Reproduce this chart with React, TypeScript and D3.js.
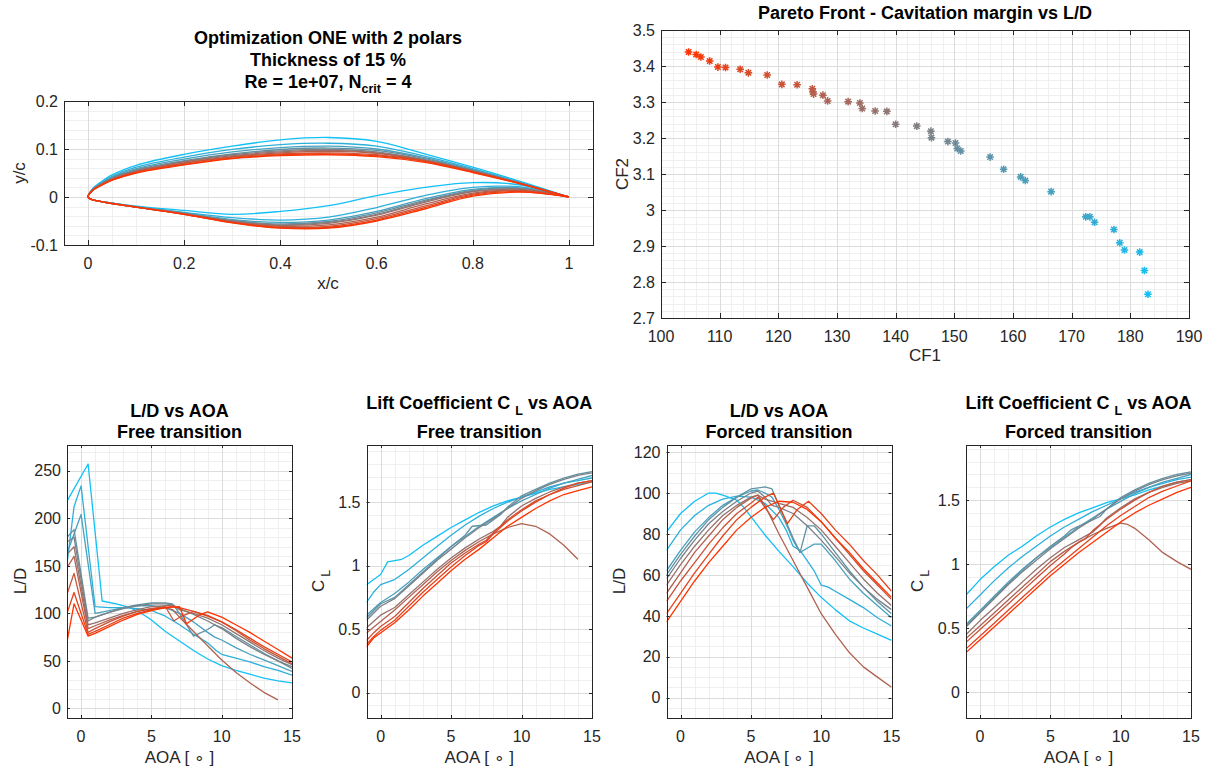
import React from "react";
import * as d3 from "d3";

const FONT = "'Liberation Sans', Arial, Helvetica, sans-serif";
const AXIS_COLOR = "#262626";
const MAJOR_GRID = "#dcdcdc";
const MINOR_GRID = "#efefef";
const RED = "#ff3300";
const CYAN = "#12c0f5";
const N_DESIGNS = 10;
const designColor = (i: number) => d3.interpolateRgb(RED, CYAN)(i / (N_DESIGNS - 1));

// ---------------- Airfoil geometry (design 0 = red ... design 9 = cyan) ----------------
const foilX = [0, 0.01, 0.025, 0.05, 0.1, 0.2, 0.3, 0.4, 0.5, 0.6, 0.7, 0.8, 0.9, 1];
const foilUpper = [
  [0, 0.014, 0.023, 0.035, 0.05, 0.067, 0.08, 0.086, 0.088, 0.084, 0.072, 0.051, 0.027, 0],
  [0, 0.014, 0.023, 0.035, 0.051, 0.068, 0.081, 0.088, 0.09, 0.086, 0.074, 0.052, 0.028, 0],
  [0, 0.014, 0.024, 0.036, 0.052, 0.07, 0.083, 0.09, 0.092, 0.088, 0.075, 0.053, 0.028, 0],
  [0, 0.015, 0.024, 0.037, 0.053, 0.071, 0.084, 0.092, 0.095, 0.091, 0.076, 0.054, 0.028, 0],
  [0, 0.015, 0.025, 0.038, 0.054, 0.073, 0.086, 0.094, 0.097, 0.092, 0.077, 0.054, 0.028, 0],
  [0, 0.015, 0.025, 0.039, 0.055, 0.074, 0.088, 0.096, 0.099, 0.094, 0.078, 0.055, 0.028, 0],
  [0, 0.016, 0.026, 0.04, 0.057, 0.076, 0.09, 0.099, 0.102, 0.097, 0.08, 0.056, 0.029, 0],
  [0, 0.016, 0.027, 0.041, 0.059, 0.079, 0.094, 0.103, 0.106, 0.1, 0.082, 0.057, 0.029, 0],
  [0, 0.017, 0.028, 0.043, 0.062, 0.083, 0.099, 0.109, 0.112, 0.106, 0.085, 0.059, 0.03, 0],
  [0, 0.018, 0.03, 0.046, 0.066, 0.089, 0.106, 0.119, 0.124, 0.116, 0.09, 0.062, 0.032, 0],
];
const foilLower = [
  [0, -0.006, -0.009, -0.014, -0.021, -0.036, -0.054, -0.065, -0.065, -0.05, -0.025, 0.002, 0.01, 0],
  [0, -0.006, -0.009, -0.014, -0.021, -0.036, -0.053, -0.064, -0.063, -0.048, -0.022, 0.004, 0.011, 0],
  [0, -0.006, -0.009, -0.014, -0.021, -0.036, -0.053, -0.063, -0.061, -0.045, -0.019, 0.006, 0.013, 0],
  [0, -0.006, -0.009, -0.014, -0.021, -0.035, -0.052, -0.061, -0.058, -0.042, -0.015, 0.008, 0.014, 0],
  [0, -0.006, -0.009, -0.013, -0.021, -0.035, -0.051, -0.059, -0.055, -0.038, -0.011, 0.011, 0.016, 0],
  [0, -0.006, -0.009, -0.013, -0.021, -0.034, -0.05, -0.058, -0.053, -0.036, -0.009, 0.012, 0.017, 0],
  [0, -0.006, -0.009, -0.013, -0.021, -0.034, -0.049, -0.056, -0.051, -0.033, -0.007, 0.014, 0.018, 0],
  [0, -0.006, -0.009, -0.013, -0.02, -0.033, -0.047, -0.053, -0.048, -0.03, -0.004, 0.016, 0.019, 0],
  [0, -0.006, -0.009, -0.013, -0.02, -0.032, -0.043, -0.048, -0.042, -0.022, 0.003, 0.02, 0.021, 0],
  [0, -0.006, -0.009, -0.013, -0.019, -0.028, -0.036, -0.03, -0.018, 0.003, 0.02, 0.03, 0.025, 0],
];

// ---------------- Pareto front ----------------
const paretoCF1 = [104.7, 106.0, 106.8, 108.3, 109.7, 111.0, 113.5, 114.9, 118.1, 120.6, 123.2, 125.8, 125.9, 126.0, 127.6, 128.4, 131.9, 133.9, 134.3, 136.5, 138.5, 140.0, 143.6, 146.0, 146.1, 148.9, 150.2, 150.5, 151.1, 156.1, 158.4, 161.3, 162.1, 166.5, 172.4, 173.1, 173.9, 177.2, 178.2, 179.0, 181.6, 182.4, 183.0];
const paretoCF2 = [3.439, 3.432, 3.425, 3.414, 3.397, 3.396, 3.391, 3.381, 3.375, 3.349, 3.348, 3.337, 3.328, 3.322, 3.319, 3.303, 3.301, 3.297, 3.282, 3.275, 3.274, 3.238, 3.233, 3.219, 3.201, 3.19, 3.186, 3.171, 3.164, 3.147, 3.113, 3.092, 3.082, 3.051, 2.981, 2.981, 2.966, 2.946, 2.909, 2.889, 2.883, 2.832, 2.766];

// ---------------- Polars: [AOA, value] per design ----------------
type Pt = [number, number];
const ldFree: Pt[][] = [
  [[-1, 70], [-0.5, 110], [0.5, 76], [1, 79], [2, 86], [3, 93], [4, 99], [5, 103], [6, 106], [7, 107], [7.5, 89], [8.5, 99], [9, 101.5], [10, 96], [11, 88], [12, 80], [13, 71], [14, 62], [15, 53]],
  [[-1, 100], [-0.5, 122], [0.5, 78], [1, 81], [2, 88], [3, 95], [4, 100], [5, 104], [6, 106], [6.5, 107], [7, 106], [8, 102], [9, 97], [10, 91], [11, 83], [12, 74], [13, 65], [14, 57], [15, 49]],
  [[-1, 120], [-0.5, 142], [0.5, 80], [1, 84], [2, 91], [3, 97], [4, 102], [5, 105], [6, 107], [6.6, 92], [7, 96], [8, 102], [9, 98], [10, 91], [11, 82], [12, 72], [13, 63], [14, 55], [15, 47]],
  [[-1, 148], [-0.5, 160], [0.5, 84], [1, 87], [2, 93], [3, 98], [4, 102], [5, 105], [6, 106], [6.5, 104], [7, 96], [8, 81], [9, 66], [10, 51], [11, 38], [12, 27], [13, 17], [14, 9]],
  [[-1, 162], [-0.5, 170], [0.5, 88], [1, 90], [2, 95], [3, 100], [4, 104], [5, 107], [6, 108], [6.5, 108], [7, 104], [8, 100], [9, 95], [10, 88], [11, 79], [12, 70], [13, 61], [14, 53], [15, 46]],
  [[-1, 175], [-0.5, 180], [0.5, 92], [1, 96], [2, 101], [3, 105], [4, 108], [5, 110], [6, 110], [6.5, 109], [7, 105], [8, 99], [9, 92], [10, 84], [11, 74], [12, 65], [13, 57], [14, 50], [15, 44]],
  [[-1, 180], [-0.5, 188], [0.5, 95], [1, 96], [2, 101], [3, 106], [4, 109], [5, 111], [6, 111], [6.5, 110], [7, 100], [8, 76], [9, 83], [9.5, 88], [10, 85], [11, 76], [12, 67], [13, 58], [14, 50], [15, 42]],
  [[-1, 163], [0, 204], [1, 100], [2, 103], [3, 106], [4, 108], [5, 108], [6, 106], [7, 100], [8, 91], [9, 80], [9.5, 75], [10, 72], [11, 64], [12, 57], [13, 51], [14, 45], [15, 39]],
  [[-1, 152], [-0.5, 212], [0, 234], [1, 107], [2, 106], [3, 106], [4, 105], [5, 103], [6, 97], [7, 88], [8, 78], [9, 69], [9.6, 61], [10, 57], [11, 53], [12, 49], [13, 44], [14, 40], [15, 35]],
  [[-1, 218], [0.5, 257], [1.5, 113], [2.5, 110], [3.5, 106], [4.5, 98], [5, 93], [6, 81], [7, 71], [8, 61], [9, 52], [10, 45], [11, 40], [12, 36], [13, 32], [14, 29], [15, 27]],
];
const clFree: Pt[][] = [
  [[-1, 0.36], [-0.5, 0.43], [0, 0.47], [0.5, 0.51], [1, 0.55], [2, 0.65], [3, 0.76], [4, 0.86], [5, 0.96], [6, 1.05], [7, 1.13], [8, 1.22], [9, 1.31], [10, 1.38], [11, 1.45], [12, 1.51], [13, 1.56], [14, 1.59], [15, 1.62]],
  [[-1, 0.38], [-0.5, 0.44], [0, 0.49], [0.5, 0.53], [1, 0.57], [2, 0.68], [3, 0.79], [4, 0.89], [5, 0.99], [6, 1.08], [7, 1.16], [7.5, 1.19], [8, 1.25], [9, 1.35], [10, 1.43], [11, 1.5], [12, 1.56], [13, 1.61], [14, 1.65], [15, 1.67]],
  [[-1, 0.41], [-0.5, 0.47], [0, 0.52], [0.5, 0.56], [1, 0.6], [2, 0.71], [3, 0.82], [4, 0.92], [5, 1.02], [6, 1.1], [7, 1.17], [7.5, 1.2], [8, 1.26], [9, 1.36], [10, 1.44], [11, 1.51], [12, 1.56], [13, 1.6], [14, 1.63], [15, 1.66]],
  [[-1, 0.47], [0, 0.56], [1, 0.65], [2, 0.75], [3, 0.85], [4, 0.95], [5, 1.04], [6, 1.12], [7, 1.19], [8, 1.25], [9, 1.3], [10, 1.33], [11, 1.31], [12, 1.25], [13, 1.16], [14, 1.05]],
  [[-1, 0.51], [0, 0.61], [1, 0.67], [2, 0.77], [3, 0.87], [4, 0.97], [5, 1.06], [6, 1.14], [7, 1.21], [8, 1.27], [8.5, 1.31], [9, 1.38], [10, 1.47], [11, 1.53], [12, 1.58], [13, 1.62], [14, 1.65], [15, 1.67]],
  [[-1, 0.57], [0, 0.68], [1, 0.74], [2, 0.84], [3, 0.94], [4, 1.04], [5, 1.13], [6, 1.22], [7, 1.3], [8, 1.37], [9, 1.45], [10, 1.53], [11, 1.59], [12, 1.64], [13, 1.68], [14, 1.71], [15, 1.73]],
  [[-1, 0.59], [0, 0.7], [1, 0.75], [2, 0.85], [3, 0.95], [4, 1.05], [5, 1.15], [6, 1.24], [6.5, 1.31], [7.5, 1.32], [8.5, 1.4], [9, 1.46], [10, 1.55], [11, 1.6], [12, 1.65], [13, 1.69], [14, 1.72], [15, 1.74]],
  [[-1, 0.61], [0, 0.71], [1, 0.78], [2, 0.87], [3, 0.97], [4, 1.06], [5, 1.15], [6, 1.23], [7, 1.31], [8, 1.38], [9, 1.45], [10, 1.51], [11, 1.56], [12, 1.61], [13, 1.65], [14, 1.68], [15, 1.71]],
  [[-1, 0.71], [-0.5, 0.79], [0, 0.85], [0.5, 0.87], [1, 0.89], [2, 0.97], [3, 1.06], [4, 1.15], [5, 1.24], [6, 1.32], [7, 1.39], [8, 1.45], [9, 1.5], [10, 1.54], [11, 1.58], [12, 1.62], [13, 1.65], [14, 1.67], [15, 1.69]],
  [[-1, 0.85], [0, 0.93], [0.5, 1.03], [1.5, 1.05], [2, 1.08], [3, 1.16], [4, 1.23], [5, 1.3], [6, 1.36], [7, 1.42], [8, 1.47], [9, 1.51], [10, 1.54], [11, 1.57], [12, 1.6], [13, 1.62], [14, 1.64], [15, 1.66]],
];
const ldForced: Pt[][] = [
  [[-1, 37], [0, 47], [1, 57], [2, 66], [3, 74], [4, 82], [5, 88], [6, 93], [7, 96], [8, 95.5], [9, 92], [10, 86], [11, 78], [12, 71], [13, 63], [14, 56], [15, 49]],
  [[-1, 41], [0, 51], [1, 61], [2, 70], [3, 79], [4, 87], [5, 93], [6, 98], [6.6, 100], [7.6, 85], [8.3, 92], [9.1, 96], [10, 90], [11, 82], [12, 75], [13, 67], [14, 60], [15, 52]],
  [[-1, 47], [0, 57], [1, 66], [2, 75], [3, 83], [4, 90], [5, 95], [5.5, 98], [6.6, 87], [7.3, 93], [8, 96.5], [9, 93], [10, 86], [11, 78], [12, 70], [13, 62], [14, 55], [15, 48]],
  [[-1, 51], [0, 61], [1, 71], [2, 79], [3, 87], [4, 93], [5, 97.5], [5.5, 99], [6, 94], [6.5, 87], [7, 80], [8, 67], [9, 54], [10, 41], [11, 31], [12, 22], [13, 15], [14, 10], [15, 5]],
  [[-1, 55], [0, 65], [1, 74], [2, 82], [3, 89], [4, 94], [5, 98], [5.5, 99], [6, 97], [7, 95], [8, 93], [9, 88], [10, 82], [11, 74], [12, 66], [13, 58], [14, 51], [15, 45]],
  [[-1, 58], [0, 68], [1, 77], [2, 85], [3, 91], [4, 96], [5, 100], [5.5, 101], [6, 98], [6.5, 94], [7, 93], [8, 90], [9, 84], [10, 77], [11, 69], [12, 61], [13, 54], [14, 48], [15, 43]],
  [[-1, 60], [0, 70], [1, 79], [2, 87], [3, 93], [4, 98], [5, 102], [6, 103], [6.5, 102], [7, 94], [7.5, 86], [8, 78], [8.5, 71], [9, 84], [9.5, 84], [10, 80], [11, 71], [12, 62], [13, 54], [14, 47], [15, 41]],
  [[-1, 62], [0, 72], [1, 81], [2, 88], [3, 94], [4, 98], [5, 101], [5.5, 101.5], [6, 100], [6.5, 98], [7, 92], [7.5, 85], [8, 77], [8.5, 71], [9, 73], [9.5, 75], [10, 75], [11, 67], [12, 58], [13, 51], [14, 45], [15, 39]],
  [[-1, 72], [0, 82], [1, 89], [2, 94], [3, 97], [4, 98.5], [5, 98], [6, 95], [7, 88], [7.5, 82], [8, 74], [8.5, 72], [9, 67], [9.5, 62], [10, 55], [10.5, 54], [11, 52], [12, 48], [13, 44], [14, 39], [15, 35]],
  [[-1, 81], [0, 90], [1, 96], [2, 100], [2.5, 100], [3, 99], [4, 96.5], [4.5, 93], [5, 88.5], [6, 79.5], [7, 71.5], [8, 64], [9, 56], [10, 49], [11, 43], [12, 37.5], [13, 34], [14, 31], [15, 28]],
];
const clForced: Pt[][] = [
  [[-1, 0.31], [0, 0.41], [1, 0.51], [2, 0.61], [3, 0.71], [4, 0.81], [5, 0.91], [6, 1.0], [7, 1.09], [8, 1.17], [9, 1.25], [10, 1.33], [11, 1.4], [12, 1.46], [13, 1.51], [14, 1.56], [15, 1.6]],
  [[-1, 0.34], [0, 0.44], [1, 0.54], [2, 0.64], [3, 0.74], [4, 0.84], [5, 0.94], [6, 1.03], [7, 1.12], [8, 1.21], [9, 1.3], [10, 1.38], [11, 1.45], [12, 1.52], [13, 1.57], [14, 1.61], [15, 1.65]],
  [[-1, 0.39], [0, 0.49], [1, 0.59], [2, 0.69], [3, 0.79], [4, 0.89], [5, 0.99], [6, 1.08], [6.5, 1.13], [7, 1.17], [7.5, 1.2], [8, 1.26], [9, 1.35], [10, 1.43], [11, 1.5], [12, 1.56], [13, 1.61], [14, 1.64], [15, 1.66]],
  [[-1, 0.42], [0, 0.52], [1, 0.62], [2, 0.72], [3, 0.82], [4, 0.92], [5, 1.02], [6, 1.1], [7, 1.17], [8, 1.23], [9, 1.28], [10, 1.32], [10.5, 1.31], [11, 1.28], [12, 1.19], [13, 1.09], [14, 1.02], [15, 0.96]],
  [[-1, 0.45], [0, 0.56], [1, 0.66], [2, 0.76], [3, 0.86], [4, 0.96], [5, 1.05], [6, 1.13], [7, 1.19], [8, 1.25], [8.5, 1.3], [9, 1.36], [10, 1.44], [11, 1.51], [12, 1.56], [13, 1.6], [14, 1.63], [15, 1.65]],
  [[-1, 0.51], [0, 0.62], [1, 0.73], [2, 0.84], [3, 0.94], [4, 1.03], [5, 1.12], [6, 1.2], [7, 1.28], [8, 1.35], [9, 1.43], [10, 1.51], [11, 1.57], [12, 1.62], [13, 1.66], [14, 1.69], [15, 1.71]],
  [[-1, 0.52], [0, 0.63], [1, 0.74], [2, 0.85], [3, 0.95], [4, 1.05], [5, 1.14], [6, 1.22], [6.5, 1.27], [7.5, 1.32], [8.5, 1.37], [9, 1.43], [10, 1.52], [11, 1.58], [12, 1.63], [13, 1.67], [14, 1.7], [15, 1.72]],
  [[-1, 0.53], [0, 0.64], [1, 0.75], [2, 0.86], [3, 0.96], [4, 1.05], [5, 1.13], [6, 1.21], [7, 1.29], [8, 1.36], [9, 1.43], [10, 1.49], [11, 1.55], [12, 1.6], [13, 1.64], [14, 1.67], [15, 1.7]],
  [[-1, 0.65], [0, 0.76], [1, 0.87], [2, 0.97], [3, 1.06], [4, 1.14], [5, 1.22], [6, 1.29], [7, 1.35], [8, 1.41], [9, 1.46], [10, 1.51], [11, 1.56], [12, 1.6], [13, 1.63], [14, 1.66], [15, 1.68]],
  [[-1, 0.76], [0, 0.88], [1, 0.98], [2, 1.07], [3, 1.14], [4, 1.22], [5, 1.29], [6, 1.35], [7, 1.4], [8, 1.44], [9, 1.48], [10, 1.51], [11, 1.54], [12, 1.58], [13, 1.61], [14, 1.64], [15, 1.66]],
];

// ---------------- Ticks ----------------
const foilXTicks = [0, 0.2, 0.4, 0.6, 0.8, 1];
const foilYTicks = [-0.1, 0, 0.1, 0.2];
const paretoXTicks = [100, 110, 120, 130, 140, 150, 160, 170, 180, 190];
const paretoYTicks = [2.7, 2.8, 2.9, 3, 3.1, 3.2, 3.3, 3.4, 3.5];
const aoaTicks = [0, 5, 10, 15];
const ldFreeTicks = [0, 50, 100, 150, 200, 250];
const clTicks = [0, 0.5, 1, 1.5];
const ldForcedTicks = [0, 20, 40, 60, 80, 100, 120];

const TICK_FS = 16;
const LABEL_FS = 17;
const TITLE_FS = 18;
const SUB_FS = 12.5;

type Scale = d3.ScaleLinear<number, number>;
interface PanelProps {
  id: string;
  l: number; r: number; t: number; b: number;
  xDomain: [number, number]; yDomain: [number, number];
  xTicks: number[]; yTicks: number[];
  xMinor: number; yMinor: number;
  tickLen: number;
  render: (x: Scale, y: Scale) => React.ReactNode;
}

const fmt = (v: number) => `${+v.toFixed(4)}`;
const px = (v: number) => Math.round(v) + 0.5;

function Panel({ id, l, r, t, b, xDomain, yDomain, xTicks, yTicks, xMinor, yMinor, tickLen, render }: PanelProps) {
  const x = d3.scaleLinear().domain(xDomain).range([l, r]);
  const y = d3.scaleLinear().domain(yDomain).range([b, t]);
  const isMajor = (ticks: number[], v: number, step: number) => ticks.some((tk) => Math.abs(tk - v) < step * 1e-3);
  const minorX = d3.range(Math.ceil(xDomain[0] / xMinor), Math.floor(xDomain[1] / xMinor) + 1)
    .map((k) => k * xMinor).filter((v) => !isMajor(xTicks, v, xMinor));
  const minorY = d3.range(Math.ceil(yDomain[0] / yMinor), Math.floor(yDomain[1] / yMinor) + 1)
    .map((k) => k * yMinor).filter((v) => !isMajor(yTicks, v, yMinor));
  return (
    <g>
      <rect x={l} y={t} width={r - l} height={b - t} fill="#fff" />
      {minorX.map((v) => <line key={"mx" + v} x1={px(x(v))} x2={px(x(v))} y1={t} y2={b} stroke={MINOR_GRID} />)}
      {minorY.map((v) => <line key={"my" + v} y1={px(y(v))} y2={px(y(v))} x1={l} x2={r} stroke={MINOR_GRID} />)}
      {xTicks.map((v) => <line key={"gx" + v} x1={px(x(v))} x2={px(x(v))} y1={t} y2={b} stroke={MAJOR_GRID} />)}
      {yTicks.map((v) => <line key={"gy" + v} y1={px(y(v))} y2={px(y(v))} x1={l} x2={r} stroke={MAJOR_GRID} />)}
      <clipPath id={id}><rect x={l} y={t} width={r - l} height={b - t} /></clipPath>
      <g clipPath={`url(#${id})`}>{render(x, y)}</g>
      <rect x={px(l)} y={px(t)} width={Math.round(r) - Math.round(l)} height={Math.round(b) - Math.round(t)} fill="none" stroke={AXIS_COLOR} />
      {xTicks.map((v) => (
        <g key={"tx" + v}>
          <line x1={px(x(v))} x2={px(x(v))} y1={b} y2={b - tickLen} stroke={AXIS_COLOR} />
          <line x1={px(x(v))} x2={px(x(v))} y1={t} y2={t + tickLen} stroke={AXIS_COLOR} />
          <text x={x(v)} y={b + 23.5} textAnchor="middle" fontSize={TICK_FS} fill={AXIS_COLOR}>{fmt(v)}</text>
        </g>
      ))}
      {yTicks.map((v) => (
        <g key={"ty" + v}>
          <line y1={px(y(v))} y2={px(y(v))} x1={l} x2={l + tickLen} stroke={AXIS_COLOR} />
          <line y1={px(y(v))} y2={px(y(v))} x1={r} x2={r - tickLen} stroke={AXIS_COLOR} />
          <text x={l - 6} y={y(v) + 5.8} textAnchor="end" fontSize={TICK_FS} fill={AXIS_COLOR}>{fmt(v)}</text>
        </g>
      ))}
    </g>
  );
}

function polarLines(data: Pt[][]) {
  return (x: Scale, y: Scale) => {
    const line = d3.line<Pt>().x((d) => x(d[0])).y((d) => y(d[1]));
    const order = d3.range(N_DESIGNS).reverse();
    return order.map((i) => (
      <path key={i} d={line(data[i]) || ""} fill="none" stroke={designColor(i)} strokeWidth={1.3} strokeLinejoin="round" />
    ));
  };
}

function starPath(cx: number, cy: number, r: number) {
  const d = r * 0.72;
  return `M${cx - r},${cy}L${cx + r},${cy}M${cx},${cy - r}L${cx},${cy + r}M${cx - d},${cy - d}L${cx + d},${cy + d}M${cx - d},${cy + d}L${cx + d},${cy - d}`;
}

function YLabel({ x, y, children }: { x: number; y: number; children: React.ReactNode }) {
  return (
    <text transform={`translate(${x},${y}) rotate(-90)`} textAnchor="middle" fontSize={LABEL_FS} fill={AXIS_COLOR}>{children}</text>
  );
}

export default function App() {
  const bottomT = 445, bottomB = 718;
  const cols = [
    { l: 67, r: 292 },
    { l: 366.5, r: 592 },
    { l: 666.5, r: 891.5 },
    { l: 966, r: 1191 },
  ];
  const cx = cols.map((c) => (c.l + c.r) / 2);
  const pColor = (i: number) => d3.interpolateRgb(RED, CYAN)(i / (paretoCF1.length - 1));
  const foilLine = d3.line<[number, number]>().curve(d3.curveCatmullRom.alpha(0.5));

  return (
    <svg width={1212} height={771} style={{ position: "absolute", left: 0, top: 0, fontFamily: FONT, background: "#fff" }}>
      <rect width={1212} height={771} fill="#fff" />

      {/* ---------- Airfoils ---------- */}
      <text textAnchor="middle" fontWeight="bold" fontSize={TITLE_FS} fill="#000">
        <tspan x={328} y={43.5}>Optimization ONE with 2 polars</tspan>
        <tspan x={328} y={65.5}>Thickness of 15 %</tspan>
      </text>
      <text x={328} y={87.5} textAnchor="middle" fontWeight="bold" fontSize={TITLE_FS} fill="#000">
        Re = 1e+07, N<tspan dy={5} fontSize={SUB_FS}>crit</tspan><tspan dy={-5}> = 4</tspan>
      </text>
      <Panel id="c1" l={64} r={593} t={101} b={245} xDomain={[-0.05, 1.05]} yDomain={[-0.1, 0.2]}
        xTicks={foilXTicks} yTicks={foilYTicks} xMinor={0.05} yMinor={0.02} tickLen={5}
        render={(x, y) => d3.range(N_DESIGNS).reverse().map((i) => {
          const pts: [number, number][] = [];
          for (let k = foilX.length - 1; k >= 0; k--) pts.push([x(foilX[k]), y(foilUpper[i][k])]);
          for (let k = 1; k < foilX.length; k++) pts.push([x(foilX[k]), y(foilLower[i][k])]);
          return <path key={i} d={foilLine(pts) || ""} fill="none" stroke={designColor(i)} strokeWidth={1.3} />;
        })} />
      <text x={328} y={289} textAnchor="middle" fontSize={LABEL_FS} fill={AXIS_COLOR}>x/c</text>
      <YLabel x={25} y={173}>y/c</YLabel>

      {/* ---------- Pareto ---------- */}
      <text x={925} y={18.5} textAnchor="middle" fontWeight="bold" fontSize={TITLE_FS} fill="#000">Pareto Front - Cavitation margin vs L/D</text>
      <Panel id="c2" l={661} r={1189} t={30} b={318} xDomain={[100, 190]} yDomain={[2.7, 3.5]}
        xTicks={paretoXTicks} yTicks={paretoYTicks} xMinor={2} yMinor={0.02} tickLen={5}
        render={(x, y) => paretoCF1.map((v, i) => (
          <path key={i} d={starPath(x(v), y(paretoCF2[i]), 3.8)} stroke={pColor(i)} strokeWidth={1.5} fill="none" />
        ))} />
      <text x={925} y={361} textAnchor="middle" fontSize={LABEL_FS} fill={AXIS_COLOR}>CF1</text>
      <YLabel x={627.5} y={174}>CF2</YLabel>

      {/* ---------- Bottom row ---------- */}
      <text textAnchor="middle" fontWeight="bold" fontSize={TITLE_FS} fill="#000">
        <tspan x={cx[0]} y={416.5}>L/D vs AOA</tspan>
        <tspan x={cx[0]} y={438}>Free transition</tspan>
      </text>
      <text x={cx[1]} y={409} textAnchor="middle" fontWeight="bold" fontSize={TITLE_FS} fill="#000">
        Lift Coefficient C <tspan dy={6} fontSize={SUB_FS}>L</tspan><tspan dy={-6}> vs AOA</tspan>
      </text>
      <text x={cx[1]} y={438} textAnchor="middle" fontWeight="bold" fontSize={TITLE_FS} fill="#000">Free transition</text>
      <text textAnchor="middle" fontWeight="bold" fontSize={TITLE_FS} fill="#000">
        <tspan x={cx[2]} y={416.5}>L/D vs AOA</tspan>
        <tspan x={cx[2]} y={438}>Forced transition</tspan>
      </text>
      <text x={cx[3]} y={409} textAnchor="middle" fontWeight="bold" fontSize={TITLE_FS} fill="#000">
        Lift Coefficient C <tspan dy={6} fontSize={SUB_FS}>L</tspan><tspan dy={-6}> vs AOA</tspan>
      </text>
      <text x={cx[3]} y={438} textAnchor="middle" fontWeight="bold" fontSize={TITLE_FS} fill="#000">Forced transition</text>

      <Panel id="c3" l={cols[0].l} r={cols[0].r} t={bottomT} b={bottomB} xDomain={[-1, 15]} yDomain={[-10, 277]}
        xTicks={aoaTicks} yTicks={ldFreeTicks} xMinor={1} yMinor={10} tickLen={3} render={polarLines(ldFree)} />
      <Panel id="c4" l={cols[1].l} r={cols[1].r} t={bottomT} b={bottomB} xDomain={[-1, 15]} yDomain={[-0.2, 1.95]}
        xTicks={aoaTicks} yTicks={clTicks} xMinor={1} yMinor={0.1} tickLen={3} render={polarLines(clFree)} />
      <Panel id="c5" l={cols[2].l} r={cols[2].r} t={bottomT} b={bottomB} xDomain={[-1, 15]} yDomain={[-10, 123.5]}
        xTicks={aoaTicks} yTicks={ldForcedTicks} xMinor={1} yMinor={5} tickLen={3} render={polarLines(ldForced)} />
      <Panel id="c6" l={cols[3].l} r={cols[3].r} t={bottomT} b={bottomB} xDomain={[-1, 15]} yDomain={[-0.2, 1.93]}
        xTicks={aoaTicks} yTicks={clTicks} xMinor={1} yMinor={0.1} tickLen={3} render={polarLines(clForced)} />

      {cx.map((c, i) => (
        <text key={"xl" + i} x={c} y={763} textAnchor="middle" fontSize={LABEL_FS} fill={AXIS_COLOR}>AOA [ ∘ ]</text>
      ))}
      <YLabel x={25.5} y={581}>L/D</YLabel>
      <YLabel x={324} y={581}>C<tspan dy={6} dx={3} fontSize={SUB_FS}>L</tspan></YLabel>
      <YLabel x={625} y={581}>L/D</YLabel>
      <YLabel x={923} y={581}>C<tspan dy={6} dx={3} fontSize={SUB_FS}>L</tspan></YLabel>
    </svg>
  );
}
